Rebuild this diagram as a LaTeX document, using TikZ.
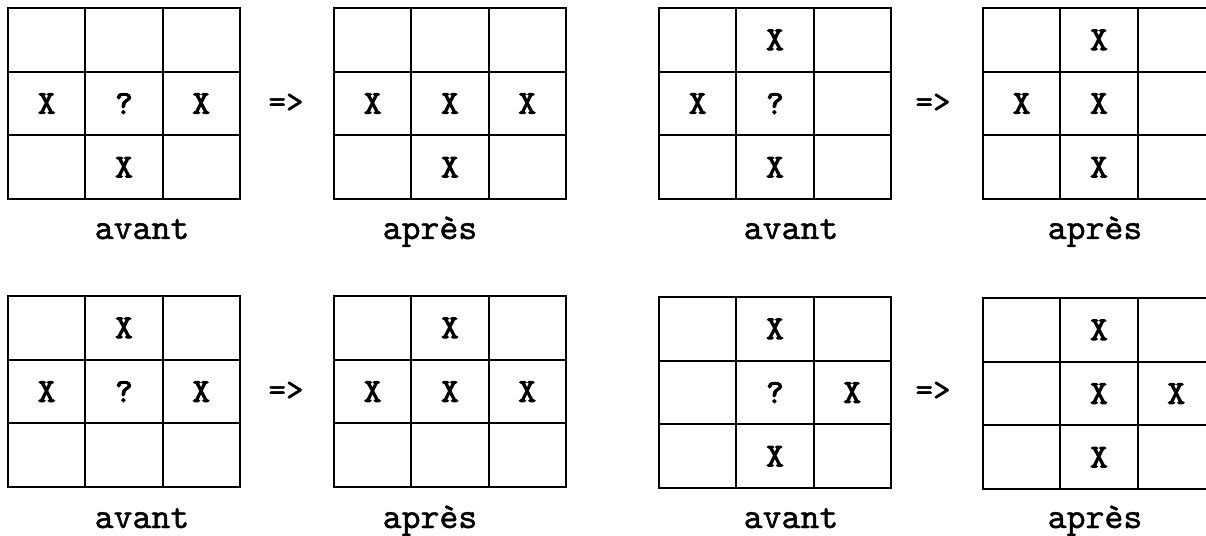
\documentclass[tikz,border=0pt]{standalone}
\usepackage{fontspec}
\newfontfamily\grasmono[Extension=.otf, FakeBold=3]{lmmono10-regular}
\newfontfamily\demimono[Extension=.otf, FakeBold=1.2]{lmmono10-regular}
\usepackage{tikz}
\usetikzlibrary{positioning}
\tikzset{>=latex}
\tikzset{
  case/.style={font=\grasmono\fontsize{19}{19}\selectfont, inner sep=0pt},
  fleche/.style={font=\demimono\fontsize{19}{19}\selectfont, inner sep=0pt},
  legende/.style={font=\demimono\fontsize{20.5}{20.5}\selectfont, inner sep=0pt, anchor=base},
  trait/.style={line width=1.1pt, line cap=rect},
}
% grille 3x3 : #1 nom, #2 x du coin, #3 y du coin
\newcommand{\grille}[3]{%
  \draw[trait] (#2,#3) rectangle ++(232,191);
  \foreach \i in {1,2} {
    \draw[trait] (#2+\i*77.3,#3) -- ++(0,191);
    \draw[trait] (#2,#3+\i*63.7) -- ++(232,0);
  }
  \foreach \r in {1,2,3}
    \foreach \c in {1,2,3}
      \coordinate (#1-\r\c) at (#2+\c*77.3-38.65, #3+\r*63.7-31.85);
}

\begin{document}
\begin{tikzpicture}[x=0.02cm, y=-0.02cm]
      \useasboundingbox (0,0) rectangle (1206,536);
      \clip (0,0) rectangle (1206,536);
      % les huit grilles
      \grille{g1}{8}{8}
      \grille{g2}{334}{8}
      \grille{g3}{659}{8}
      \grille{g4}{983}{8}
      \grille{g5}{8}{296}
      \grille{g6}{334}{296}
      \grille{g7}{659}{297}
      \grille{g8}{983}{298}
      % contenu des cases
      \foreach \g/\c/\t in {g1/21/X, g1/22/?, g1/23/X, g1/32/X,
                            g2/21/X, g2/22/X, g2/23/X, g2/32/X,
                            g3/12/X, g3/21/X, g3/22/?, g3/32/X,
                            g4/12/X, g4/21/X, g4/22/X, g4/32/X,
                            g5/12/X, g5/21/X, g5/22/?, g5/23/X,
                            g6/12/X, g6/21/X, g6/22/X, g6/23/X,
                            g7/12/X, g7/22/?, g7/23/X, g7/32/X,
                            g8/12/X, g8/22/X, g8/23/X, g8/32/X}
        \node[case] (\g x\c) at (\g-\c) {\t};
      % fleches
      \node[fleche] (f1) at (286,103) {=>};
      \node[fleche] (f2) at (933,103) {=>};
      \node[fleche] (f3) at (286,391) {=>};
      \node[fleche] (f4) at (933,391) {=>};
      % legendes
      \node[legende] (l1) at (142,239) {avant};
      \node[legende] (l2) at (430,239) {après};
      \node[legende] (l3) at (791,239) {avant};
      \node[legende] (l4) at (1095,239) {après};
      \node[legende] (l5) at (142,528) {avant};
      \node[legende] (l6) at (430,528) {après};
      \node[legende] (l7) at (791,528) {avant};
      \node[legende] (l8) at (1095,528) {après};
    \end{tikzpicture}
\end{document}
